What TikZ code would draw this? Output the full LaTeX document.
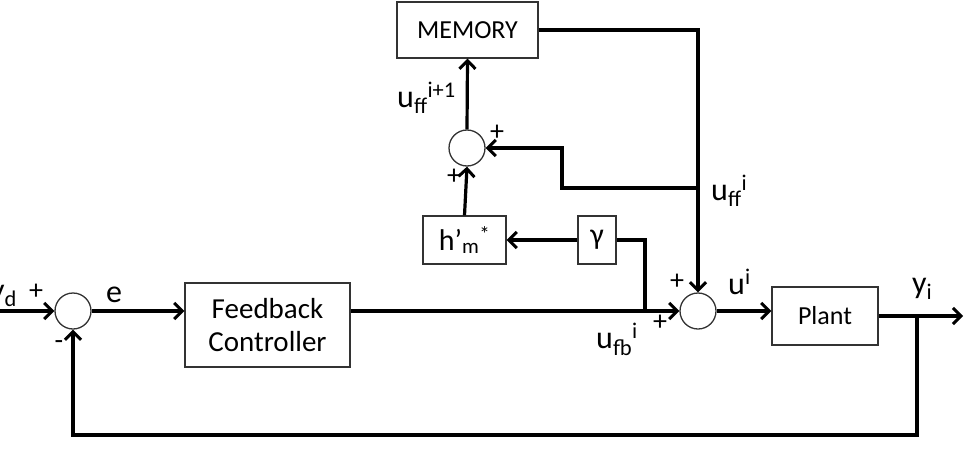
\documentclass[tikz,border=0pt]{standalone}
\usepackage{fontspec}
\setmainfont{Carlito}
\usetikzlibrary{arrows.meta}
\begin{document}
\begin{tikzpicture}[x=1pt,y=-1pt,
  wire/.style={line width=3.2pt, line join=miter},
  arr/.style={wire, -{Straight Barb[length=8pt,width=16pt,line width=3pt]}},
  blk/.style={draw=black!80, line width=1.3pt, rectangle, inner sep=0pt},
  sumj/.style={draw=black!80, line width=1.3pt, circle, minimum size=36pt, inner sep=0pt},
  lbl/.style={font=\fontsize{32}{34}\selectfont, inner sep=0pt, anchor=base west},
  sgn/.style={font=\fontsize{28}{30}\selectfont, inner sep=0pt}]
\useasboundingbox (0,0) rectangle (966,450);
% blocks
\node[sumj] (s1) at (73,311) {};
\node[sumj] (s2) at (698,311) {};
\node[sumj] (s3) at (467,148) {};
\node[blk, minimum width=165pt, minimum height=84pt, align=center,
  font=\fontsize{29}{33}\selectfont] (fb) at (267.5,325) {Feedback\\Controller};
\node[blk, minimum width=106pt, minimum height=58pt, font=\fontsize{26}{28}\selectfont] (pl) at (825,316) {Plant};
\node[blk, minimum width=141pt, minimum height=56pt, font=\fontsize{26}{28}\selectfont] (mem) at (467.5,30) {MEMORY};
\node[blk, minimum width=83pt, minimum height=48pt, font=\fontsize{30}{32}\selectfont] (h) at (464.5,240) {h’\textsubscript{m}\textsuperscript{*}};
\node[blk, minimum width=38pt, minimum height=48pt, font=\fontsize{30}{32}\selectfont] (g) at (597,240) {γ};
% coordinates
\coordinate (in) at (0,311);
\coordinate (b1) at (645,311);
\coordinate (b2) at (698,188);
\coordinate (k2) at (562,188);
\coordinate (b3) at (917,316);
\coordinate (out) at (963,316);
\coordinate (k3) at (917,435);
% connectors
\draw[arr] (in) -- (s1.west);
\draw[arr] (s1.east) -- (s1.east -| fb.west);
\draw[arr] (s2.west -| fb.east) -- (s2.west);
\draw[wire] (b1) |- (g.east);
\draw[arr] (g.west) -- (h.east);
\draw[arr] (h.north) -- (s3.south);
\draw[arr] (s3.north) -- (mem.south);
\draw[arr] (mem.east) -| (s2.north);
\draw[arr] (b2) -- (k2) |- (s3.east);
\draw[arr] (s2.east) -- (s2.east -| pl.west);
\draw[arr] (pl.east) -- (out);
\draw[arr] (b3) -- (k3) -| (s1.south);
% labels
\node[lbl] (lyd) at (-10,300) {y\textsubscript{d}};
\node[sgn] (p1) at (36,292) {+};
\node[sgn] (m1) at (59,345) {-};
\node[lbl] (le) at (106,302) {e};
\node[sgn] (p3a) at (497,133) {+};
\node[sgn] (p3b) at (454,177) {+};
\node[lbl] (luff1) at (397,107) {u\textsubscript{ff}\textsuperscript{i+1}};
\node[lbl] (luff) at (711,200) {u\textsubscript{ff}\textsuperscript{i}};
\node[lbl] (lufb) at (596,348) {u\textsubscript{fb}\textsuperscript{i}};
\node[lbl] (lu) at (728,294) {u\textsuperscript{i}};
\node[lbl] (lyi) at (912,293) {y\textsubscript{i}};
\node[sgn] (p2a) at (677,282) {+};
\node[sgn] (p2b) at (660,323) {+};
\end{tikzpicture}
\end{document}
